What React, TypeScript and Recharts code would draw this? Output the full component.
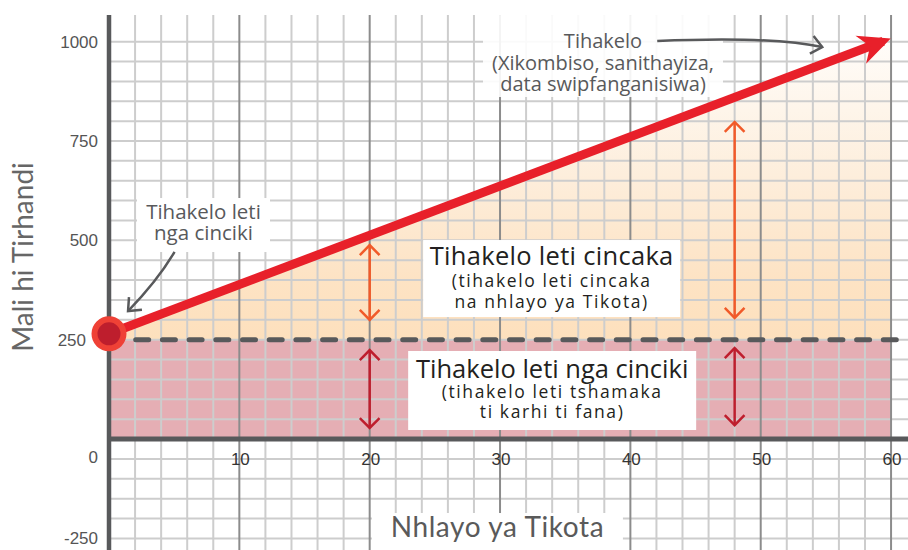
import React from 'react';
import { ComposedChart, Area, Line, XAxis, YAxis, ReferenceLine, ReferenceDot } from 'recharts';

// number of tickets (x) and money spent (y)
const units = [0, 60];
const zeroCost = [0, 0];
const fixedCost = [250, 250];
const totalCost = [265, 1008];

// the drawn cost line stops a little short so the arrow head ends on x = 60
const lineUnits = [0, 59.4];
const lineCost = [265, 1001];

const xTickValues = [10, 20, 30, 40, 50, 60];
const yTickValues = [-250, 0, 250, 500, 750, 1000];

const minorGridX = [2, 4, 6, 8, 12, 14, 16, 18, 22, 24, 26, 28, 32, 34, 36, 38, 42, 44, 46, 48, 52, 54, 56, 58];
const majorGridX = [10, 20, 30, 40, 50, 60];
const gridY = [-250, -200, -150, -100, -50, 0, 50, 100, 150, 200, 250, 300, 350, 400, 450, 500, 550, 600, 650, 700, 750, 800, 850, 900, 950, 1000];

// double arrows showing the two kinds of cost
const arrowUnits = [20, 48];
const variableHigh = [488, 798];
const variableLow = [300, 305];
const fixedHigh = [224, 229];
const fixedLow = [28, 35];

const chartData = units.map((x, i) => ({ x, zero: zeroCost[i], fixed: fixedCost[i], total: totalCost[i] }));
const lineData = lineUnits.map((x, i) => ({ x, total: lineCost[i] }));

const FONT = "'Open Sans', Lato, sans-serif";
const TITLE_FONT = "Lato, 'Open Sans', sans-serif";
const TICK_FONT = "'Liberation Sans', Arial, sans-serif";
const RED = '#e8202a';
const AXIS = '#58595b';
const MINOR = '#cdcdcd';
const MAJOR = '#8c8c8c';
const ORANGE = '#f15a29';
const DARKRED = '#be1e2d';
const NO_LIGA = { fontVariantLigatures: 'none' as const };

const chevron = (tx: number, ty: number, fx: number, fy: number, len: number, spread: number) => {
  const d = Math.hypot(tx - fx, ty - fy) || 1;
  const ux = (tx - fx) / d;
  const uy = (ty - fy) / d;
  const arm = (s: number) => {
    const c = Math.cos(s);
    const sn = Math.sin(s);
    const rx = -ux * c + uy * sn;
    const ry = -uy * c - ux * sn;
    return `${tx + rx * len},${ty + ry * len}`;
  };
  return `M${arm(spread)} L${tx},${ty} L${arm(-spread)}`;
};

const doubleArrow = (color: string) => (p: any) => (
  <g>
    <line x1={p.x1} y1={p.y1} x2={p.x2} y2={p.y2} stroke={color} strokeWidth={2.5} />
    <path d={chevron(p.x1, p.y1, p.x2, p.y2, 14, 0.78)} fill="none" stroke={color} strokeWidth={2.5} />
    <path d={chevron(p.x2, p.y2, p.x1, p.y1, 14, 0.78)} fill="none" stroke={color} strokeWidth={2.5} />
  </g>
);

const curvedArrow = (a: number, b: number) => (p: any) => {
  const cx = p.x1 + a * (p.x2 - p.x1);
  const cy = p.y1 + b * (p.y2 - p.y1);
  return (
    <g>
      <path d={`M${p.x1},${p.y1} Q${cx},${cy} ${p.x2},${p.y2}`} fill="none" stroke={AXIS} strokeWidth={2.5} />
      <path d={chevron(p.x2, p.y2, cx, cy, 14, 0.7)} fill="none" stroke={AXIS} strokeWidth={2.5} />
    </g>
  );
};

const arrowHead = (p: any) => {
  const d = Math.hypot(p.x2 - p.x1, p.y2 - p.y1) || 1;
  const ux = (p.x2 - p.x1) / d;
  const uy = (p.y2 - p.y1) / d;
  const nx = -uy;
  const ny = ux;
  const tx = p.x2 + ux * 8;
  const ty = p.y2 + uy * 8;
  const pt = (back: number, side: number) => `${tx - ux * back + nx * side},${ty - uy * back + ny * side}`;
  return <path d={`M${tx},${ty} L${pt(32, 15)} L${pt(22, 0)} L${pt(32, -15)} Z`} fill={RED} />;
};

type TextLine = { text: string; dy: number; size: number; fill: string; ls?: number; font?: string };

const labelBox = (w: number, h: number, lines: TextLine[], opacity = 1) => (p: any) => (
  <g>
    <rect x={p.cx - w / 2} y={p.cy - h / 2} width={w} height={h} fill="#ffffff" fillOpacity={opacity} />
    {lines.map((l, i) => (
      <text
        key={i}
        x={p.cx}
        y={p.cy + l.dy}
        textAnchor="middle"
        fontFamily={l.font || FONT}
        fontSize={l.size}
        letterSpacing={l.ls || 0}
        fill={l.fill}
        style={NO_LIGA}
      >
        {l.text}
      </text>
    ))}
  </g>
);

const annotations = [
  {
    x: 33.96, y: 404, w: 257, h: 77,
    lines: [
      { text: 'Tihakelo leti cincaka', dy: -13.5, size: 25.5, ls: 0.3, fill: '#231f20' },
      { text: '(tihakelo leti cincaka', dy: 8.5, size: 17.5, ls: 1.6, fill: '#231f20' },
      { text: 'na nhlayo ya Tikota)', dy: 29.5, size: 17.5, ls: 1.6, fill: '#231f20' },
    ],
  },
  {
    x: 34.0, y: 122.3, w: 288, h: 79,
    lines: [
      { text: 'Tihakelo leti nga cinciki', dy: -12.5, size: 25.5, ls: 0, fill: '#231f20' },
      { text: '(tihakelo leti tshamaka', dy: 7.5, size: 17.5, ls: 1.6, fill: '#231f20' },
      { text: 'ti karhi ti fana)', dy: 27.5, size: 17.5, ls: 1.6, fill: '#231f20' },
    ],
  },
  {
    x: 7.25, y: 538.6, w: 133, h: 54,
    lines: [
      { text: 'Tihakelo leti', dy: -6, size: 20.5, fill: AXIS },
      { text: 'nga cinciki', dy: 15, size: 20.5, fill: AXIS },
    ],
  },
  {
    x: 37.9, y: 963.8, w: 240, h: 82, opacity: 0.9,
    lines: [
      { text: 'Tihakelo', dy: -8, size: 20, fill: AXIS },
      { text: '(Xikombiso, sanithayiza,', dy: 14, size: 20, fill: AXIS },
      { text: 'data swipfanganisiwa)', dy: 35, size: 20, fill: AXIS },
    ],
  },
  {
    x: 29.8, y: -232.5, w: 251, h: 37,
    lines: [{ text: 'Nhlayo ya Tikota', dy: 5.5, size: 28, ls: 0.6, fill: '#5a5a5a', font: TITLE_FONT }],
  },
];

const callouts = [
  { from: { x: 5.03, y: 471 }, to: { x: 1.46, y: 322 }, a: 0.36, b: 0.48 },
  { from: { x: 42.06, y: 1001.5 }, to: { x: 54.72, y: 986.4 }, a: 0.685, b: -0.83 },
];

const YTick = (props: any) => {
  const { x, y, payload } = props;
  // the origin label sits below the x axis; 250 makes room for the start dot
  const shiftY = payload.value === 0 ? 18 : 0;
  const shiftX = payload.value === 250 ? -12 : 0;
  return (
    <text x={x + shiftX} y={y + shiftY} dy="0.35em" textAnchor="end" fontFamily={TICK_FONT} fontSize={17} fill="#555">
      {payload.value}
    </text>
  );
};

const YTitle = (props: any) => {
  const vb = props.viewBox || { x: 0, y: 15 };
  const tx = vb.x + 33;
  const ty = vb.y + 242;
  return (
    <text
      x={tx}
      y={ty}
      transform={`rotate(-90 ${tx} ${ty})`}
      textAnchor="middle"
      fontFamily={TITLE_FONT}
      fontSize={28}
      fill="#666"
      style={NO_LIGA}
    >
      Mali hi Tirhandi
    </text>
  );
};

const renderDot = (p: any) =>
  p.index === 0 ? (
    <circle key="start" cx={p.cx} cy={p.cy} r={14.5} fill={DARKRED} stroke="#ef4136" strokeWidth={6} />
  ) : (
    <g key={`dot-${p.index}`} />
  );

export default function App() {
  return (
    <div style={{ position: 'absolute', left: 0, top: 0, background: '#fff' }}>
      <ComposedChart width={908} height={550} data={chartData} margin={{ top: 15, right: 0, bottom: 0, left: 0 }}>
        <defs>
          <linearGradient id="peach" x1="0" y1="0" x2="0" y2="1">
            <stop offset="0" stopColor="#fffdfa" />
            <stop offset="0.45" stopColor="#fdeedc" />
            <stop offset="0.8" stopColor="#fde3c4" />
            <stop offset="1" stopColor="#fde0bd" />
          </linearGradient>
        </defs>
        <XAxis type="number" dataKey="x" domain={[0, 61.3]} hide />
        <YAxis
          type="number"
          domain={[-279, 1067]}
          ticks={yTickValues}
          interval={0}
          width={109}
          axisLine={false}
          tickLine={false}
          tickSize={0}
          tickMargin={11}
          tick={<YTick />}
          label={(props: any) => <YTitle {...props} />}
        />

        <Area dataKey={(d: any) => [d.zero, d.fixed]} fill="#e5aeb4" fillOpacity={1} stroke="none" isAnimationActive={false} zIndex={100} />
        <Area dataKey={(d: any) => [d.fixed, d.total]} fill="url(#peach)" fillOpacity={1} stroke="none" isAnimationActive={false} zIndex={100} />

        {gridY.map((v) => (
          <ReferenceLine key={`gy${v}`} y={v} stroke={MINOR} strokeWidth={2} zIndex={150} />
        ))}
        {minorGridX.map((v) => (
          <ReferenceLine key={`gx${v}`} x={v} stroke={MINOR} strokeWidth={2} zIndex={150} />
        ))}
        {majorGridX.map((v) => (
          <ReferenceLine key={`mx${v}`} x={v} stroke={MAJOR} strokeWidth={2} zIndex={160} />
        ))}

        <ReferenceLine x={0} stroke={AXIS} strokeWidth={4.5} zIndex={170} />
        <ReferenceLine y={0} stroke={AXIS} strokeWidth={5} zIndex={170} />
        <ReferenceLine y={fixedCost[0]} stroke={AXIS} strokeWidth={5} strokeDasharray="13 13.7" strokeLinecap="round" zIndex={170} />

        {arrowUnits.map((x, i) => (
          <ReferenceLine
            key={`va${i}`}
            segment={[{ x, y: variableHigh[i] }, { x, y: variableLow[i] }]}
            shape={doubleArrow(ORANGE)}
            zIndex={180}
          />
        ))}
        {arrowUnits.map((x, i) => (
          <ReferenceLine
            key={`fa${i}`}
            segment={[{ x, y: fixedHigh[i] }, { x, y: fixedLow[i] }]}
            shape={doubleArrow(DARKRED)}
            zIndex={180}
          />
        ))}

        {xTickValues.map((t) => (
          <ReferenceDot
            key={`xt${t}`}
            x={t}
            y={0}
            r={1}
            zIndex={200}
            shape={(p: any) => (
              <text x={p.cx + 1} y={p.cy + 26} textAnchor="middle" fontFamily={TICK_FONT} fontSize={17} fill="#333">
                {t}
              </text>
            )}
          />
        ))}

        {annotations.map((a, i) => (
          <ReferenceDot key={`an${i}`} x={a.x} y={a.y} r={1} zIndex={300} shape={labelBox(a.w, a.h, a.lines, a.opacity)} />
        ))}
        {callouts.map((c, i) => (
          <ReferenceLine key={`co${i}`} segment={[c.from, c.to]} shape={curvedArrow(c.a, c.b)} zIndex={310} />
        ))}

        <Line
          data={lineData}
          dataKey="total"
          type="linear"
          stroke={RED}
          strokeWidth={9}
          dot={renderDot}
          activeDot={false}
          isAnimationActive={false}
          zIndex={400}
        />
        <ReferenceLine
          segment={[{ x: lineUnits[0], y: lineCost[0] }, { x: lineUnits[1], y: lineCost[1] }]}
          shape={arrowHead}
          zIndex={450}
        />
      </ComposedChart>
    </div>
  );
}
